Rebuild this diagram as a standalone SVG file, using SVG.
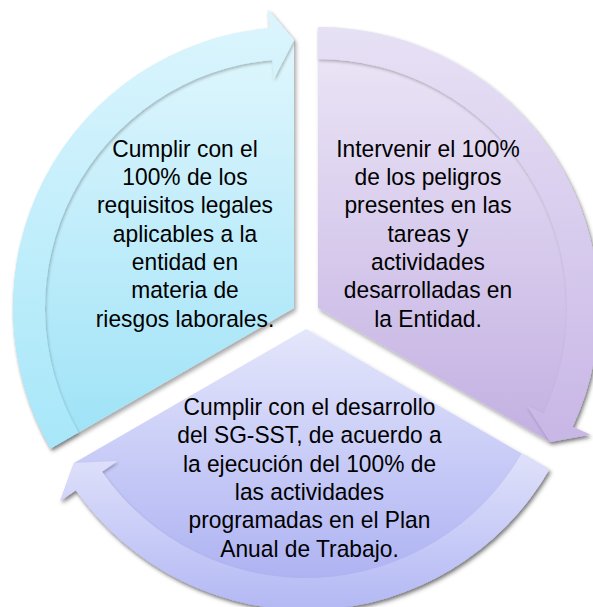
<svg xmlns="http://www.w3.org/2000/svg" width="593" height="607" viewBox="0 0 593 607">
  <defs>
    <style>
      .t { font-family: "Liberation Sans", Arial, sans-serif; font-size: 24.5px; fill: #000; text-anchor: middle; }
      .seg { filter: url(#sh); }
      .band { filter: url(#sh2); }
    </style>
    <filter id="sh" x="-10%" y="-10%" width="120%" height="120%">
      <feDropShadow dx="2" dy="3" stdDeviation="2" flood-color="#000" flood-opacity="0.35"/>
    </filter>
    <filter id="sh2" x="-10%" y="-10%" width="120%" height="120%">
      <feDropShadow dx="1" dy="2" stdDeviation="1.5" flood-color="#000" flood-opacity="0.25"/>
    </filter>
    <linearGradient id="gL" gradientUnits="userSpaceOnUse" x1="0" y1="27" x2="0" y2="450">
      <stop offset="0" stop-color="#e2f7fd"/>
      <stop offset="1" stop-color="#9de2f7"/>
    </linearGradient>
    <linearGradient id="gLb" gradientUnits="userSpaceOnUse" x1="0" y1="9" x2="0" y2="450">
      <stop offset="0" stop-color="#dcf5fd"/>
      <stop offset="1" stop-color="#a7e7f9"/>
    </linearGradient>
    <linearGradient id="gR" gradientUnits="userSpaceOnUse" x1="0" y1="27" x2="0" y2="442">
      <stop offset="0" stop-color="#ede8f7"/>
      <stop offset="1" stop-color="#c3b0e2"/>
    </linearGradient>
    <linearGradient id="gRb" gradientUnits="userSpaceOnUse" x1="0" y1="27" x2="0" y2="442">
      <stop offset="0" stop-color="#e7e1f5"/>
      <stop offset="1" stop-color="#c8b6e6"/>
    </linearGradient>
    <linearGradient id="gB" gradientUnits="userSpaceOnUse" x1="0" y1="329" x2="0" y2="607">
      <stop offset="0" stop-color="#e4e6fb"/>
      <stop offset="1" stop-color="#a8adf1"/>
    </linearGradient>
    <linearGradient id="gBb" gradientUnits="userSpaceOnUse" x1="0" y1="450" x2="0" y2="607">
      <stop offset="0" stop-color="#e0e2fa"/>
      <stop offset="1" stop-color="#b4b9f4"/>
    </linearGradient>
  </defs>

  <g id="node-left">
    <path class="seg" fill="url(#gL)" d="M294,308 L50.65,448.5 A281,281 0 0,1 269.51,28.07 L267.85,9.14 L294,40 Z"/>
  </g>
  <g id="node-right">
    <path class="seg" fill="url(#gR)" d="M318,308 L318,27 A281,281 0 0,1 572.67,426.76 L589.89,434.79 L550.09,442 Z"/>
  </g>
  <g id="node-bottom">
    <path class="seg" fill="url(#gB)" d="M306,329 L549.35,469.5 A281,281 0 0,1 75.82,490.18 L60.25,501.07 L73.91,463 Z"/>
  </g>

  <g id="connectors">
    <path class="band" fill="url(#gLb)" d="M50.65,448.5 A281,281 0 0,1 269.51,28.07 L267.85,9.14 L294,40 L273.95,78.88 L272.30,59.95 A249,249 0 0,0 78.36,432.5 Z"/>
    <path class="band" fill="url(#gRb)" d="M318,27 A281,281 0 0,1 572.67,426.76 L589.89,434.79 L550.09,442 L526.45,405.20 L543.67,413.23 A249,249 0 0,0 318,59 Z"/>
    <path class="band" fill="url(#gBb)" d="M549.35,469.5 A281,281 0 0,1 75.82,490.18 L60.25,501.07 L73.91,463 L117.60,460.92 L102.03,471.82 A249,249 0 0,0 521.64,453.5 Z"/>
  </g>

  <g id="label-left" class="t" transform="matrix(0.93,0,0,1,12.95,0)">
    <text x="185" y="156.7">Cumplir con el</text>
    <text x="185" y="185">100% de los</text>
    <text x="185" y="213.3">requisitos legales</text>
    <text x="185" y="241.7">aplicables a la</text>
    <text x="185" y="270">entidad en</text>
    <text x="185" y="298.3">materia de</text>
    <text x="185" y="326.7">riesgos laborales.</text>
  </g>
  <g id="label-right" class="t" transform="matrix(0.93,0,0,1,29.96,0)">
    <text x="428" y="156.7">Intervenir el 100%</text>
    <text x="428" y="185">de los peligros</text>
    <text x="428" y="213.3">presentes en las</text>
    <text x="428" y="241.7">tareas y</text>
    <text x="428" y="270">actividades</text>
    <text x="428" y="298.3">desarrolladas en</text>
    <text x="428" y="326.7">la Entidad.</text>
  </g>
  <g id="label-bottom" class="t" transform="matrix(0.93,0,0,1,21.665,0)">
    <text x="309.5" y="415">Cumplir con el desarrollo</text>
    <text x="309.5" y="443.3">del SG-SST, de acuerdo a</text>
    <text x="309.5" y="471.7">la ejecución del 100% de</text>
    <text x="309.5" y="500">las actividades</text>
    <text x="309.5" y="528.3">programadas en el Plan</text>
    <text x="309.5" y="556.7">Anual de Trabajo.</text>
  </g>
</svg>
